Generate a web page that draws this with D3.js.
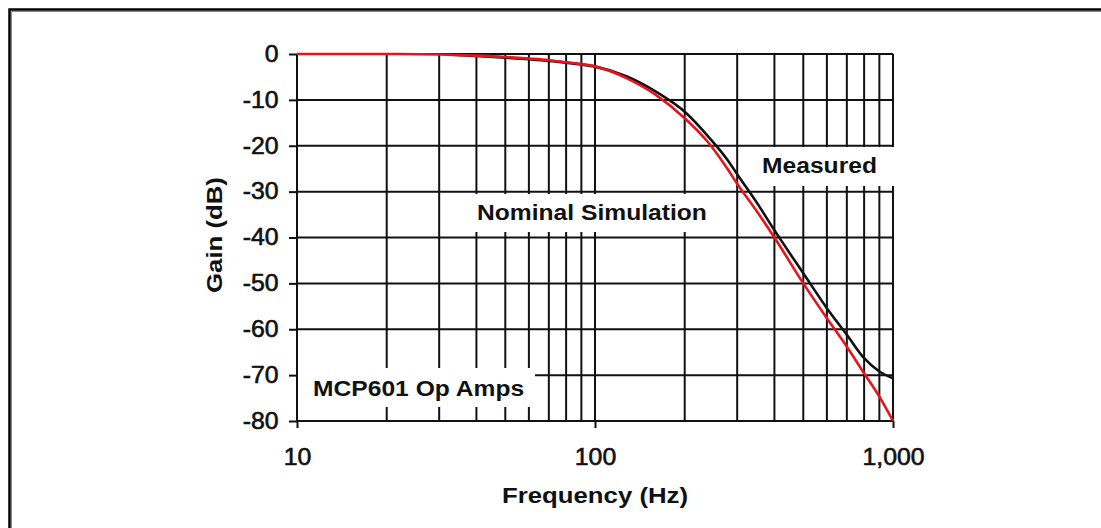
<!DOCTYPE html>
<html lang="en">
<head>
<meta charset="utf-8">
<title>MCP601 filter response</title>
<script type="text/javascript" src="https://cdn.jsdelivr.net/npm/d3@7"></script>
<style>
body { margin: 0; background: #fff; }
svg { display: block; font-family: "Liberation Sans", Arial, Helvetica, sans-serif; }
</style>
</head>
<body>
<script type="text/javascript">
var w = 1101;
var h = 528;

// nominal simulation (red)
var freqNominal = [10, 20, 30, 40, 50, 60, 70, 80, 90, 100, 128, 160, 200, 240, 280, 300, 350, 400, 500, 600, 700, 800, 900, 1000];
var gainNominal = [0, 0, -0.1, -0.35, -0.65, -1.0, -1.35, -1.8, -2.2, -2.7, -5.3, -8.9, -14.0, -19.3, -25.3, -28.3, -34.4, -40, -50, -57.6, -63.8, -69.6, -74.7, -80];

// measured (black)
var freqMeasured = [33, 40, 50, 60, 70, 80, 90, 100, 128, 160, 200, 240, 280, 300, 350, 400, 500, 600, 700, 800, 900, 1000];
var gainMeasured = [-0.15, -0.45, -0.8, -1.15, -1.5, -1.9, -2.3, -2.75, -4.9, -8.2, -12.6, -18.0, -23.3, -26.2, -32.5, -38.4, -47.8, -55.4, -61.2, -66.3, -69.2, -70.7];

var gainTicks = [0, -10, -20, -30, -40, -50, -60, -70, -80];
var freqTicks = [10, 100, 1000];
var gridFreqs = [10, 20, 30, 40, 50, 60, 70, 80, 90, 100, 200, 300, 400, 500, 600, 700, 800, 900, 1000];

var xScale = d3.scaleLog().domain([10, 1000]).range([297, 893]);
var yScale = d3.scaleLinear().domain([-80, 0]).range([421, 54]);

var svg = d3.select("body").append("svg")
  .attr("width", w)
  .attr("height", h);

// outer frame (top + left only visible)
svg.append("path")
  .attr("d", "M9.5," + h + "V9.5H" + w)
  .attr("fill", "none")
  .attr("stroke", "#000")
  .attr("stroke-width", 2.5);
svg.append("path")
  .attr("d", "M11.5," + h + "V11.5H" + w)
  .attr("fill", "none")
  .attr("stroke", "#888")
  .attr("stroke-width", 1);

// grid
svg.append("g").selectAll("line")
  .data(gainTicks)
  .enter().append("line")
  .attr("x1", xScale(10)).attr("x2", xScale(1000))
  .attr("y1", function(d){ return yScale(d); })
  .attr("y2", function(d){ return yScale(d); })
  .attr("stroke", "#111").attr("stroke-width", 2);

svg.append("g").selectAll("line")
  .data(gridFreqs)
  .enter().append("line")
  .attr("x1", function(d){ return xScale(d); })
  .attr("x2", function(d){ return xScale(d); })
  .attr("y1", yScale(0)).attr("y2", yScale(-80))
  .attr("stroke", "#111").attr("stroke-width", 2);

// axes
var yAxis = d3.axisLeft(yScale)
  .tickValues(gainTicks)
  .tickSize(8)
  .tickSizeOuter(0)
  .tickPadding(9)
  .tickFormat(function(d){ return String(d); });  // plain hyphen, not unicode minus
var xAxis = d3.axisBottom(xScale)
  .tickValues(freqTicks)
  .tickSize(7)
  .tickSizeOuter(0)
  .tickPadding(21)
  .tickFormat(d3.format(","));

var gy = svg.append("g")
  .attr("transform", "translate(" + xScale(10) + ",0)")
  .call(yAxis);
var gx = svg.append("g")
  .attr("transform", "translate(0," + yScale(-80) + ")")
  .call(xAxis);

[gy, gx].forEach(function(g){
  g.select(".domain").remove();
  g.selectAll(".tick line").attr("stroke", "#111").attr("stroke-width", 2);
  g.selectAll(".tick text")
    .attr("fill", "#111")
    .attr("stroke", "#111")
    .attr("stroke-width", 0.6)
    .attr("font-size", "23px")
    .attr("font-family", null)
    .attr("transform", "scale(1.08,1)");
});

// white label boxes knocking out the grid
var boxes = [
  { x: 465, y: 194, w: 260, h: 38 },
  { x: 748, y: 147, w: 148, h: 39 },
  { x: 298, y: 368, w: 237, h: 39 }
];
svg.append("g").selectAll("rect")
  .data(boxes)
  .enter().append("rect")
  .attr("x", function(d){ return d.x; })
  .attr("y", function(d){ return d.y; })
  .attr("width", function(d){ return d.w; })
  .attr("height", function(d){ return d.h; })
  .attr("fill", "#fff");

// curves
var line = d3.line()
  .x(function(d){ return xScale(d[0]); })
  .y(function(d){ return yScale(d[1]); })
  .curve(d3.curveMonotoneX);

svg.append("path")
  .datum(d3.zip(freqMeasured, gainMeasured))
  .attr("d", line)
  .attr("fill", "none")
  .attr("stroke", "#111")
  .attr("stroke-width", 2.6);

svg.append("path")
  .datum(d3.zip(freqNominal, gainNominal))
  .attr("d", line)
  .attr("fill", "none")
  .attr("stroke", "#e8141c")
  .attr("stroke-width", 2.6);

// labels
function label(txt, x, y, size, anchor, rot) {
  var t = svg.append("text")
    .attr("transform", "translate(" + x + "," + y + ")" + (rot ? " rotate(" + rot + ")" : "") + " scale(1.12,1)")
    .attr("font-size", size + "px")
    .attr("font-weight", "bold")
    .attr("fill", "#111")
    .attr("text-anchor", anchor)
    .text(txt);
  return t;
}

label("Nominal Simulation", 477, 220, 22, "start");
label("Measured", 762, 173, 22, "start");
label("MCP601 Op Amps", 313, 396, 22, "start");
label("Frequency (Hz)", 595, 503, 23, "middle");
label("Gain (dB)", 222, 235, 23, "middle", -90);
</script>
</body>
</html>
